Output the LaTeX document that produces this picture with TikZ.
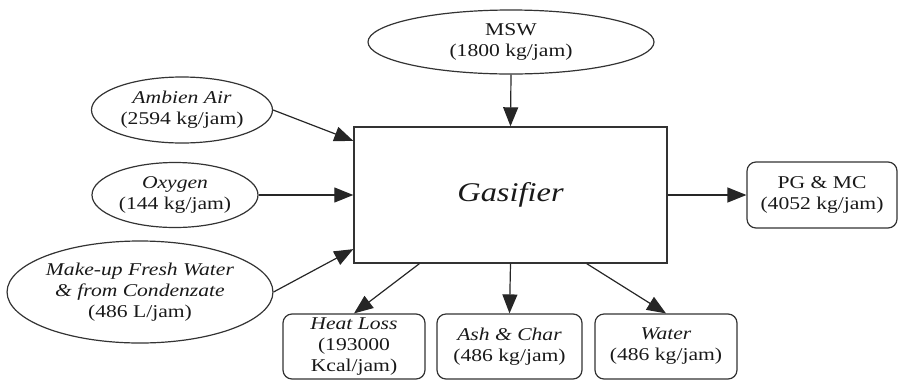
\documentclass[tikz,border=0pt]{standalone}
\usepackage{fontspec}
\setmainfont{Liberation Serif}[FakeStretch=1.2]
\usetikzlibrary{arrows.meta,shapes.geometric}
\begin{document}
\begin{tikzpicture}
[x=1pt,y=-1pt,
  every node/.style={font=\fontsize{18}{21}\selectfont,text=black!90},
  feeddecorate/.style={shape=ellipse,draw=black!80,line width=1.2pt,inner sep=0pt,align=center},
  proddecorate/.style={shape=rectangle,rounded corners=9pt,draw=black!80,line width=1.2pt,inner sep=0pt,align=center},
  unitdecorate/.style={shape=rectangle,draw=black!80,line width=1.4pt,inner sep=0pt},
  flowdecorate/.style={-{Triangle[length=19pt,width=15pt]},line width=1.2pt,draw=black!85}]
\useasboundingbox (0,0) rectangle (899,381);
%% gasifier
\node (gas) at (510.5,195) [unitdecorate,minimum width=313pt,minimum height=136pt,
  font=\fontsize{27}{30}\selectfont\itshape] {Gasifier};
%% feeds
\foreach \nodename/\x/\y/\w/\h/\txt in {
  msw/511/42/286/64/{MSW\\(1800 kg/jam)},
  air/182/110/181/66/{\textit{Ambien Air}\\(2594 kg/jam)},
  oxy/175/195/166/65/{\textit{Oxygen}\\(144 kg/jam)},
  mkw/140/292/261/102/{\textit{Make-up Fresh Water}\\\textit{\& from Condenzate}\\(486 L/jam)}} {
  \node (\nodename) at (\x,\y) [feeddecorate,minimum width=\w pt,minimum height=\h pt] {\txt};
}
%% products
\foreach \nodename/\x/\y/\w/\h/\txt in {
  pg/822/195/150/66/{PG \& MC\\(4052 kg/jam)},
  heat/354/346.5/142/65/{\textit{Heat Loss}\\(193000\\Kcal/jam)},
  ash/509.5/346.5/145/65/{\textit{Ash \& Char}\\(486 kg/jam)},
  wat/666/346.5/142/65/{\textit{Water}\\(486 kg/jam)}} {
  \node (\nodename) at (\x,\y) [proddecorate,minimum width=\w pt,minimum height=\h pt] {\txt};
}
%% flows
\path
\foreach \startnode/\endnode in {msw.south/gas.north, air.east/gas.161, oxy.east/gas.west,
  mkw.east/gas.199, gas.east/pg.west, gas.217/heat.north, gas.south/ash.north, gas.318/wat.north} {
  (\startnode) edge[flowdecorate] (\endnode)
};
\end{tikzpicture}
\end{document}
